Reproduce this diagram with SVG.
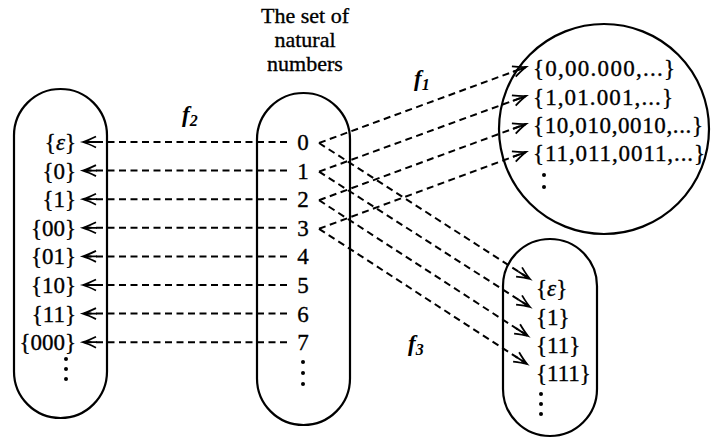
<svg xmlns="http://www.w3.org/2000/svg" width="711" height="438" viewBox="0 0 711 438">
<defs>
<style>
.t{font-family:"Liberation Serif","Times New Roman",serif;font-size:23px;fill:#000;stroke:#000;stroke-width:0.35}
.ti{font-family:"Liberation Serif","Times New Roman",serif;font-size:22px;fill:#000;stroke:#000;stroke-width:0.35;text-anchor:middle}
.f{font-family:"Liberation Serif","Times New Roman",serif;font-size:23px;font-style:italic;font-weight:bold;fill:#000}
.shape{fill:none;stroke:#000;stroke-width:2.2}
.d{fill:none;stroke:#000;stroke-width:2;stroke-dasharray:7 4.5}
.dot{fill:#000}
</style>
<marker id="ah" markerUnits="userSpaceOnUse" viewBox="-16 -8 18 16" refX="0" refY="0" markerWidth="18" markerHeight="16" orient="auto" overflow="visible">
<path d="M-13,-5.5 Q-5,-1.5 0,0 Q-5,1.5 -13,5.5 M-14,0 L0,0" fill="none" stroke="#000" stroke-width="1.8"/>
</marker>
</defs>

<g id="title">
<text class="ti" x="305" y="23">The set of</text>
<text class="ti" x="305" y="47">natural</text>
<text class="ti" x="305" y="71">numbers</text>
</g>

<g id="left-set">
<rect class="shape" x="14" y="89" width="93" height="329" rx="46.5"/>
<text class="t" text-anchor="end" x="76" y="150">{<tspan font-style="italic">ε</tspan>}</text>
<text class="t" text-anchor="end" x="76" y="178.6">{0}</text>
<text class="t" text-anchor="end" x="76" y="207.2">{1}</text>
<text class="t" text-anchor="end" x="76" y="235.8">{00}</text>
<text class="t" text-anchor="end" x="76" y="264.4">{01}</text>
<text class="t" text-anchor="end" x="76" y="293">{10}</text>
<text class="t" text-anchor="end" x="76" y="321.6">{11}</text>
<text class="t" text-anchor="end" x="76" y="350.2">{000}</text>
<circle class="dot" cx="66" cy="359" r="2"/>
<circle class="dot" cx="66" cy="369" r="2"/>
<circle class="dot" cx="66" cy="379" r="2"/>
</g>

<g id="naturals">
<rect class="shape" x="257" y="93" width="93" height="332" rx="46.5"/>
<text class="t" text-anchor="middle" x="303" y="150">0</text>
<text class="t" text-anchor="middle" x="303" y="178.6">1</text>
<text class="t" text-anchor="middle" x="303" y="207.2">2</text>
<text class="t" text-anchor="middle" x="303" y="235.8">3</text>
<text class="t" text-anchor="middle" x="303" y="264.4">4</text>
<text class="t" text-anchor="middle" x="303" y="293">5</text>
<text class="t" text-anchor="middle" x="303" y="321.6">6</text>
<text class="t" text-anchor="middle" x="303" y="350.2">7</text>
<circle class="dot" cx="303" cy="362" r="2"/>
<circle class="dot" cx="303" cy="373" r="2"/>
<circle class="dot" cx="303" cy="384" r="2"/>
</g>

<g id="classes">
<circle class="shape" cx="604" cy="129" r="105"/>
<text class="t" x="533" y="76" textLength="142" lengthAdjust="spacing">{0,00.000,...}</text>
<text class="t" x="533" y="105" textLength="140" lengthAdjust="spacing">{1,01.001,...}</text>
<text class="t" x="533" y="133" textLength="170" lengthAdjust="spacing">{10,010,0010,...}</text>
<text class="t" x="533" y="161" textLength="172" lengthAdjust="spacing">{11,011,0011,...}</text>
<circle class="dot" cx="544" cy="175" r="2"/>
<circle class="dot" cx="544" cy="187" r="2"/>
</g>

<g id="ones">
<rect class="shape" x="503" y="239" width="94" height="197" rx="47"/>
<text class="t" x="536" y="296">{<tspan font-style="italic">ε</tspan>}</text>
<text class="t" x="536" y="325">{1}</text>
<text class="t" x="536" y="353">{11}</text>
<text class="t" x="536" y="381">{111}</text>
<circle class="dot" cx="541" cy="394" r="2"/>
<circle class="dot" cx="541" cy="404" r="2"/>
<circle class="dot" cx="541" cy="414" r="2"/>
</g>

<g id="labels">
<text class="f" x="182" y="122">f<tspan font-size="16" dy="4">2</tspan></text>
<text class="f" x="414" y="86">f<tspan font-size="16" dy="4">1</tspan></text>
<text class="f" x="408" y="351">f<tspan font-size="16" dy="4">3</tspan></text>
</g>

<g id="connectors">
<path class="d" d="M287,142 L83,142" marker-end="url(#ah)"/>
<path class="d" d="M287,170.6 L83,170.6" marker-end="url(#ah)"/>
<path class="d" d="M287,199.2 L83,199.2" marker-end="url(#ah)"/>
<path class="d" d="M287,227.8 L83,227.8" marker-end="url(#ah)"/>
<path class="d" d="M287,256.4 L83,256.4" marker-end="url(#ah)"/>
<path class="d" d="M287,285 L83,285" marker-end="url(#ah)"/>
<path class="d" d="M287,313.6 L83,313.6" marker-end="url(#ah)"/>
<path class="d" d="M287,342.2 L83,342.2" marker-end="url(#ah)"/>

<path class="d" d="M319,143 L526,67" marker-end="url(#ah)"/>
<path class="d" d="M319,171.6 L526,96" marker-end="url(#ah)"/>
<path class="d" d="M319,200.2 L526,124" marker-end="url(#ah)"/>
<path class="d" d="M319,228.8 L526,152" marker-end="url(#ah)"/>

<path class="d" d="M319,143 L530,279" marker-end="url(#ah)"/>
<path class="d" d="M319,171.6 L530,307" marker-end="url(#ah)"/>
<path class="d" d="M319,200.2 L528,336" marker-end="url(#ah)"/>
<path class="d" d="M319,228.8 L527,364" marker-end="url(#ah)"/>
</g>
</svg>
